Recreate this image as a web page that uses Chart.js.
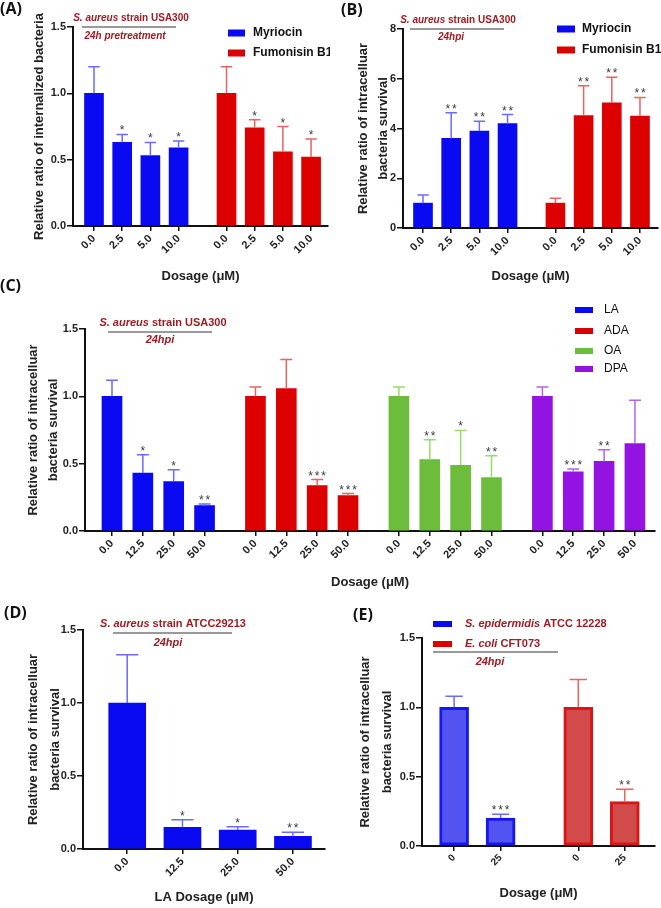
<!DOCTYPE html>
<html>
<head>
<meta charset="utf-8">
<script src="https://cdn.jsdelivr.net/npm/chart.js@4.4.0/dist/chart.umd.min.js"></script>
<style>
  body { margin: 0; background: #fff; width: 661px; height: 908px; position: relative; overflow: hidden; }
  canvas { position: absolute; }
  .lab { position: absolute; font: bold 16px "Open Sans", "Liberation Sans", sans-serif; color: #111; }
</style>
</head>
<body>
<canvas id="cA" width="330" height="292" style="left:0;top:0"></canvas>
<canvas id="cB" width="331" height="292" style="left:330px;top:0"></canvas>
<canvas id="cC" width="661" height="300" style="left:0;top:295px"></canvas>
<canvas id="cD" width="330" height="293" style="left:0;top:615px"></canvas>
<canvas id="cE" width="331" height="293" style="left:330px;top:615px"></canvas>
<div class="lab" style="left:0;top:-3px">(A)</div>
<div class="lab" style="left:341px;top:-2px">(B)</div>
<div class="lab" style="left:0;top:274px">(C)</div>
<div class="lab" style="left:4px;top:601px">(D)</div>
<div class="lab" style="left:353px;top:603px">(E)</div>
<script>
/* data (mean, upper error = SD) */

// (A) internalized bacteria, 24h pretreatment
const dosesAB = ['0.0', '2.5', '5.0', '10.0'];
const myriocinA = [1.0, 0.63, 0.53, 0.59];
const myriocinAErr = [0.20, 0.06, 0.10, 0.05];
const fumonisinA = [1.0, 0.74, 0.56, 0.52];
const fumonisinAErr = [0.20, 0.06, 0.19, 0.135];
const starsA = ['', '*', '*', '*'];

// (B) intracellular survival, 24hpi
const myriocinB = [1.0, 3.6, 3.9, 4.2];
const myriocinBErr = [0.33, 1.03, 0.39, 0.36];
const fumonisinB = [1.0, 4.52, 5.03, 4.5];
const fumonisinBErr = [0.2, 1.2, 1.03, 0.75];
const starsB = ['', '**', '**', '**'];

// (C) fatty acids, USA300
const dosesC = ['0.0', '12.5', '25.0', '50.0'];
const laC = [1.0, 0.43, 0.367, 0.189];
const laCErr = [0.12, 0.136, 0.087, 0.011];
const starsLA = ['', '*', '*', '**'];
const adaC = [1.0, 1.058, 0.338, 0.263];
const adaCErr = [0.07, 0.216, 0.044, 0.015];
const starsADA = ['', '', '***', '***'];
const oaC = [1.0, 0.531, 0.487, 0.397];
const oaCErr = [0.07, 0.147, 0.26, 0.162];
const starsOA = ['', '**', '*', '**'];
const dpaC = [1.0, 0.44, 0.517, 0.65];
const dpaCErr = [0.07, 0.02, 0.086, 0.321];
const starsDPA = ['', '***', '**', ''];

// (D) LA on ATCC29213
const laD = [1.0, 0.148, 0.13, 0.087];
const laDErr = [0.33, 0.052, 0.023, 0.027];
const starsD = ['', '*', '*', '**'];

// (E) other species
const dosesE = ['0', '25'];
const epiE = [1.0, 0.202];
const epiEErr = [0.08, 0.027];
const starsEpi = ['', '***'];
const coliE = [1.0, 0.32];
const coliEErr = [0.2, 0.09];
const starsColi = ['', '**'];

const BLUE = '#0a0af2', RED = '#dc0000', GREEN = '#6cbd3b', PURPLE = '#9313e3';
const DARKRED = '#a01c22';
const FONT = '"Liberation Sans", Arial, sans-serif';

// error bars (upper half only) + significance stars
const errorBars = {
  id: 'errorBars',
  afterDatasetsDraw(chart) {
    const ctx = chart.ctx, y = chart.scales.y;
    chart.data.datasets.forEach((ds, di) => {
      const meta = chart.getDatasetMeta(di);
      meta.data.forEach((bar, i) => {
        const v = ds.data[i].y, top = y.getPixelForValue(v + ds.err[i]);
        const cap = bar.width * 0.6;
        ctx.save();
        ctx.strokeStyle = ds.errColor;
        ctx.lineWidth = 1.5;
        ctx.beginPath();
        ctx.moveTo(bar.x, bar.y);
        ctx.lineTo(bar.x, top);
        ctx.moveTo(bar.x - cap / 2, top);
        ctx.lineTo(bar.x + cap / 2, top);
        ctx.stroke();
        const s = ds.stars[i];
        if (s) {
          ctx.fillStyle = '#3a3a3a';
          ctx.font = '12px ' + FONT;
          ctx.textAlign = 'center';
          ctx.textBaseline = 'alphabetic';
          for (let k = 0; k < s.length; k++) {
            ctx.fillText('*', bar.x + (k - (s.length - 1) / 2) * 6.5, top);
          }
        }
        ctx.restore();
      });
    });
  }
};

function richText(ctx, parts, x, y, size, align) {
  const fonts = parts.map(p => (p.i ? 'italic ' : '') + 'bold ' + size + 'px ' + FONT);
  let w = 0;
  parts.forEach((p, k) => { ctx.font = fonts[k]; w += ctx.measureText(p.t).width; });
  let cx = align === 'center' ? x - w / 2 : x;
  ctx.fillStyle = DARKRED;
  ctx.textAlign = 'left';
  ctx.textBaseline = 'middle';
  parts.forEach((p, k) => { ctx.font = fonts[k]; ctx.fillText(p.t, cx, y); cx += ctx.measureText(p.t).width; });
}

// strain caption, grey rule and legend boxes
function overlay(o) {
  return {
    id: 'overlay',
    afterDraw(chart) {
      const ctx = chart.ctx;
      ctx.save();
      const n = o.note;
      if (n.title) richText(ctx, n.title, n.tx, n.ty, n.size, 'center');
      ctx.strokeStyle = '#777';
      ctx.lineWidth = 1.5;
      ctx.beginPath();
      ctx.moveTo(n.x1, n.ly);
      ctx.lineTo(n.x2, n.ly);
      ctx.stroke();
      richText(ctx, [{ t: n.sub, i: true }], n.sx, n.sy, n.size, 'center');
      (o.legend || []).forEach(it => {
        ctx.fillStyle = it.color;
        ctx.fillRect(it.x, it.y - it.h / 2, it.w, it.h);
        if (it.rich) {
          richText(ctx, it.rich, it.tx, it.y, it.size, 'left');
        } else {
          ctx.fillStyle = '#111';
          ctx.font = it.weight + ' ' + it.size + 'px ' + FONT;
          ctx.textAlign = 'left';
          ctx.textBaseline = 'middle';
          ctx.fillText(it.text, it.tx, it.y);
        }
      });
      ctx.restore();
    }
  };
}

function panel(o) {
  const canvas = document.getElementById(o.id);
  const W = canvas.width, H = canvas.height, a = o.area;
  const pos = [], labels = [];
  const datasets = o.groups.map((g, gi) => ({
    label: g.label,
    data: g.values.map((v, i) => {
      pos.push(gi * o.step + i);
      labels.push(o.doses[i]);
      return { x: gi * o.step + i, y: v };
    }),
    err: g.err,
    stars: g.stars,
    errColor: g.errColor,
    backgroundColor: g.fill,
    borderColor: g.border || g.fill,
    borderWidth: g.bw || 0,
    borderSkipped: false,
    barThickness: o.bar,
    grouped: false
  }));
  return new Chart(canvas.getContext('2d'), {
    type: 'bar',
    data: { datasets },
    options: {
      responsive: false,
      animation: false,
      layout: { padding: { left: 0, top: a.t, right: W - a.r, bottom: 0 } },
      plugins: { legend: { display: false }, tooltip: { enabled: false } },
      scales: {
        x: {
          type: 'linear',
          min: o.xMin,
          max: o.xMax,
          offset: false,
          afterFit: s => { s.height = H - a.b; },
          afterBuildTicks: s => { s.ticks = pos.map(v => ({ value: v })); },
          ticks: {
            autoSkip: false, minRotation: 45, maxRotation: 45, padding: 1,
            color: '#222', font: { family: FONT, size: o.xTickSize || 11, weight: 'bold' },
            callback: (v, i) => labels[i]
          },
          grid: { display: true, offset: false, drawOnChartArea: false, tickLength: 5, color: '#111', lineWidth: 1.5 },
          border: { display: true, color: '#111', width: 2 },
          title: {
            display: true, text: o.xTitle, color: '#222',
            font: { family: FONT, size: 13, weight: 'bold', lineHeight: 1.2 },
            padding: { top: 0, bottom: o.xTitlePad }
          }
        },
        y: {
          min: 0,
          max: o.yMax,
          afterFit: s => { s.width = a.l; },
          ticks: {
            stepSize: o.yStep, padding: 1, color: '#222',
            font: { family: FONT, size: 11, weight: 'bold' },
            callback: v => v.toFixed(o.dp)
          },
          grid: { display: true, drawOnChartArea: false, tickLength: 6, color: '#111', lineWidth: 1.5 },
          border: { display: true, color: '#111', width: 2 },
          title: {
            display: true, text: o.yTitle, color: '#222',
            font: { family: FONT, size: 13, weight: 'bold', lineHeight: o.yLine },
            padding: { top: o.yTitlePad, bottom: 0 }
          }
        }
      }
    },
    plugins: [errorBars, overlay(o)]
  });
}

const survivalTitle = ['Relative ratio of intracelluar', 'bacteria survival'];
const usa300 = [{ t: 'S. aureus', i: true }, { t: ' strain USA300' }];

panel({
  id: 'cA', area: { l: 73, t: 27, r: 328, b: 226 },
  doses: dosesAB, step: 4.7, xMin: -0.745, xMax: 8.3, bar: 19,
  yMax: 1.5, yStep: 0.5, dp: 1,
  xTitle: 'Dosage (\u03bcM)', xTitlePad: 8,
  yTitle: 'Relative ratio of internalized bacteria', yLine: 1.2, yTitlePad: 32,
  groups: [
    { label: 'Myriocin', values: myriocinA, err: myriocinAErr, stars: starsA, fill: BLUE, errColor: '#6b6bff' },
    { label: 'Fumonisin B1', values: fumonisinA, err: fumonisinAErr, stars: starsA, fill: RED, errColor: '#e86464' }
  ],
  note: { title: usa300, tx: 131, ty: 18, size: 10, x1: 82, x2: 176, ly: 27, sub: '24h pretreatment', sx: 125, sy: 36 },
  legend: [
    { color: BLUE, x: 228, y: 33, w: 17, h: 7, tx: 253, text: 'Myriocin', size: 12, weight: 'bold' },
    { color: RED, x: 228, y: 53, w: 17, h: 7, tx: 253, text: 'Fumonisin B1', size: 12, weight: 'bold' }
  ]
});

panel({
  id: 'cB', area: { l: 73, t: 29, r: 328, b: 228 },
  doses: dosesAB, step: 4.7, xMin: -0.71, xMax: 8.34, bar: 19,
  yMax: 8, yStep: 2, dp: 0,
  xTitle: 'Dosage (\u03bcM)', xTitlePad: 8,
  yTitle: survivalTitle, yLine: 1.54, yTitlePad: 23,
  groups: [
    { label: 'Myriocin', values: myriocinB, err: myriocinBErr, stars: starsB, fill: BLUE, errColor: '#6b6bff' },
    { label: 'Fumonisin B1', values: fumonisinB, err: fumonisinBErr, stars: starsB, fill: RED, errColor: '#e86464' }
  ],
  note: { title: usa300, tx: 128, ty: 20, size: 10, x1: 80, x2: 174, ly: 29, sub: '24hpi', sx: 121, sy: 37 },
  legend: [
    { color: BLUE, x: 227, y: 29, w: 18, h: 7, tx: 252, text: 'Myriocin', size: 12, weight: 'bold' },
    { color: RED, x: 227, y: 50, w: 18, h: 7, tx: 252, text: 'Fumonisin B1', size: 12, weight: 'bold' }
  ]
});

panel({
  id: 'cC', area: { l: 85, t: 34, r: 655, b: 236 },
  doses: dosesC, step: 4.65, xMin: -0.875, xMax: 17.6, bar: 20,
  yMax: 1.5, yStep: 0.5, dp: 1,
  xTitle: 'Dosage (\u03bcM)', xTitlePad: 5,
  yTitle: survivalTitle, yLine: 1.54, yTitlePad: 23,
  groups: [
    { label: 'LA', values: laC, err: laCErr, stars: starsLA, fill: BLUE, errColor: '#6b6bff' },
    { label: 'ADA', values: adaC, err: adaCErr, stars: starsADA, fill: RED, errColor: '#e86464' },
    { label: 'OA', values: oaC, err: oaCErr, stars: starsOA, fill: GREEN, errColor: '#95dd6a' },
    { label: 'DPA', values: dpaC, err: dpaCErr, stars: starsDPA, fill: PURPLE, errColor: '#b864ec' }
  ],
  note: { title: usa300, tx: 163, ty: 28, size: 11, x1: 108, x2: 212, ly: 37, sub: '24hpi', sx: 160, sy: 45 },
  legend: [
    { color: BLUE, x: 575, y: 15, w: 18, h: 6, tx: 604, text: 'LA', size: 12, weight: 'normal' },
    { color: RED, x: 575, y: 36, w: 18, h: 6, tx: 604, text: 'ADA', size: 12, weight: 'normal' },
    { color: GREEN, x: 575, y: 56, w: 18, h: 6, tx: 604, text: 'OA', size: 12, weight: 'normal' },
    { color: PURPLE, x: 575, y: 74, w: 18, h: 6, tx: 604, text: 'DPA', size: 12, weight: 'normal' }
  ]
});

panel({
  id: 'cD', area: { l: 83, t: 15, r: 325, b: 234 },
  doses: dosesC, step: 4, xMin: -0.8, xMax: 3.58, bar: 37,
  yMax: 1.5, yStep: 0.5, dp: 1,
  xTitle: 'LA Dosage (\u03bcM)', xTitlePad: 3,
  yTitle: survivalTitle, yLine: 1.69, yTitlePad: 22,
  groups: [
    { label: 'LA', values: laD, err: laDErr, stars: starsD, fill: BLUE, errColor: '#6b6bff' }
  ],
  note: { title: [{ t: 'S. aureus', i: true }, { t: ' strain ATCC29213' }], tx: 173, ty: 9, size: 11, x1: 113, x2: 232, ly: 18, sub: '24hpi', sx: 168, sy: 28 }
});

panel({
  id: 'cE', area: { l: 92, t: 23, r: 325, b: 231 },
  doses: dosesE, step: 2.67, xMin: -0.69, xMax: 4.32, bar: 29, xTickSize: 10,
  yMax: 1.5, yStep: 0.5, dp: 1,
  xTitle: 'Dosage (\u03bcM)', xTitlePad: 7,
  yTitle: survivalTitle, yLine: 1.69, yTitlePad: 24,
  groups: [
    { label: 'S. epidermidis ATCC 12228', values: epiE, err: epiEErr, stars: starsEpi, fill: '#5353f1', border: '#1616ef', bw: 3, errColor: '#6b6bff' },
    { label: 'E. coli CFT073', values: coliE, err: coliEErr, stars: starsColi, fill: '#d24b4b', border: '#dc1414', bw: 3, errColor: '#e86464' }
  ],
  note: { x1: 103, x2: 228, ly: 37, sub: '24hpi', sx: 160, sy: 47, size: 11 },
  legend: [
    { color: BLUE, x: 103, y: 9, w: 19, h: 6, tx: 135, size: 11, rich: [{ t: 'S. epidermidis', i: true }, { t: ' ATCC 12228' }] },
    { color: RED, x: 103, y: 29, w: 19, h: 6, tx: 135, size: 11, rich: [{ t: 'E. coli', i: true }, { t: ' CFT073' }] }
  ]
});
</script>
</body>
</html>
